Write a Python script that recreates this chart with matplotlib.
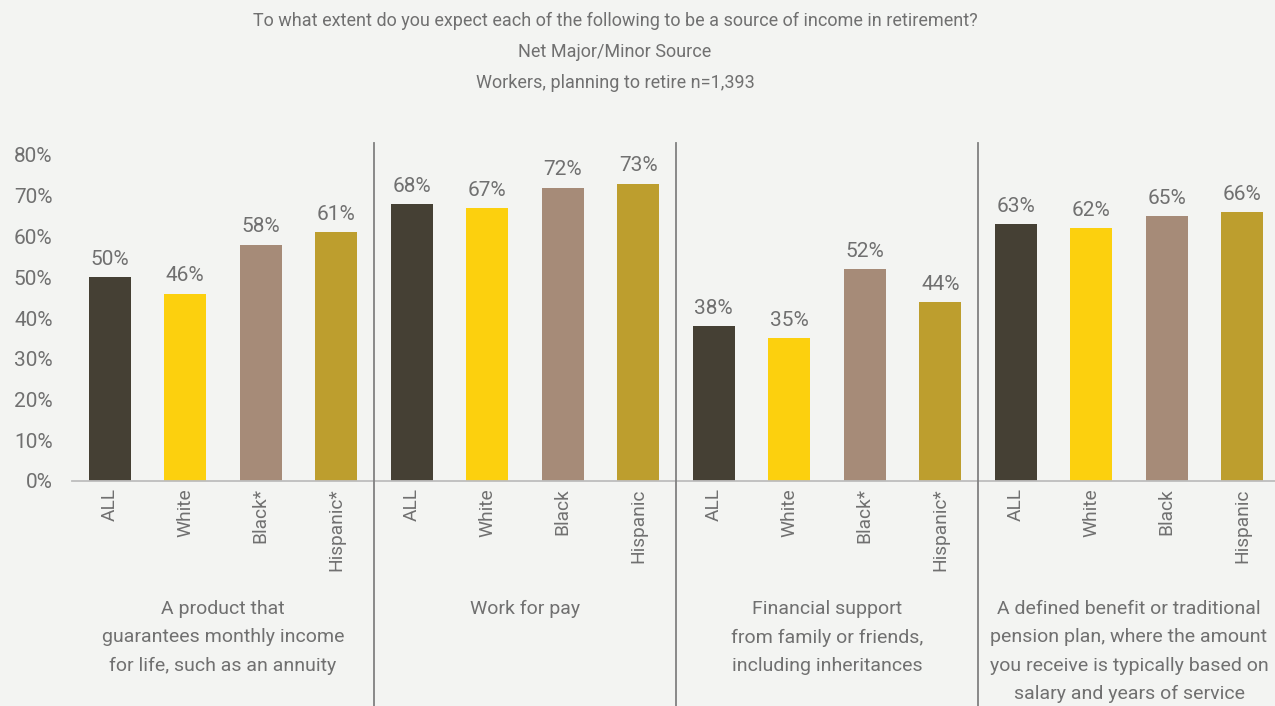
import matplotlib.pyplot as plt
import numpy as np

plt.rcParams['font.family'] = ['Roboto', 'DejaVu Sans']

groups = ["A product that\nguarantees monthly income\nfor life, such as an annuity",
          "Work for pay",
          "Financial support\nfrom family or friends,\nincluding inheritances",
          "A defined benefit or traditional\npension plan, where the amount\nyou receive is typically based on\nsalary and years of service"]
tick_labels = [["ALL", "White", "Black*", "Hispanic*"],
               ["ALL", "White", "Black", "Hispanic"],
               ["ALL", "White", "Black*", "Hispanic*"],
               ["ALL", "White", "Black", "Hispanic"]]
all_vals = [50, 68, 38, 63]
white_vals = [46, 67, 35, 62]
black_vals = [58, 72, 52, 65]
hispanic_vals = [61, 73, 44, 66]

colors = ["#454034", "#fcd00e", "#a68b78", "#bd9e2e"]
txt = "#707070"
bg = "#f3f4f2"

W, H = 1275, 706
fig = plt.figure(figsize=(W / 100, H / 100), dpi=100, facecolor=bg)
slot = 75.5
left = 72
ax = fig.add_axes([left / W, (H - 481) / H, (W - left) / W, 326 / H])
ax.set_facecolor(bg)

series = [all_vals, white_vals, black_vals, hispanic_vals]
for g in range(4):
    for s in range(4):
        x = g * 4 + s
        v = series[s][g]
        ax.bar(x, v, width=0.555, color=colors[s])
        ax.text(x, v + 2.0, f"{v}%", ha='center', va='bottom', fontsize=15, color=txt)
        ax.text(x, -1.8, tick_labels[g][s], rotation=90, ha='center', va='top',
                fontsize=13.8, color=txt)

ax.set_xlim(-0.5, -0.5 + (W - left) / slot)
ax.set_ylim(0, 80)
ax.set_yticks(np.arange(0, 81, 10))
ax.set_yticklabels([f"{t}%" for t in range(0, 81, 10)], fontsize=15, color=txt)
ax.tick_params(axis='y', length=0, pad=14)
ax.tick_params(axis='x', length=0)
ax.set_xticks([])
for sp in ['top', 'right', 'left']:
    ax.spines[sp].set_visible(False)
ax.spines['bottom'].set_color('#bdbdbd')
ax.spines['bottom'].set_linewidth(1.3)

# separators between question groups
for b in [4, 8, 12]:
    xf = (left + b * slot) / W
    fig.add_artist(plt.Line2D([xf, xf], [0, (H - 143) / H], color='#808080', lw=1.3))

for g in range(4):
    xf = (left + (g * 4 + 2) * slot) / W
    fig.text(xf, (H - 600) / H, groups[g], ha='center', va='top', fontsize=14,
             color=txt, linespacing=1.74)

titles = ["To what extent do you expect each of the following to be a source of income in retirement?",
          "Net Major/Minor Source",
          "Workers, planning to retire n=1,393"]
for i, t in enumerate(titles):
    fig.text(615 / W, (H - 21 - 31 * i) / H, t, ha='center', va='center',
             fontsize=13, color=txt)

fig.savefig("out.png", dpi=100, facecolor=bg)
